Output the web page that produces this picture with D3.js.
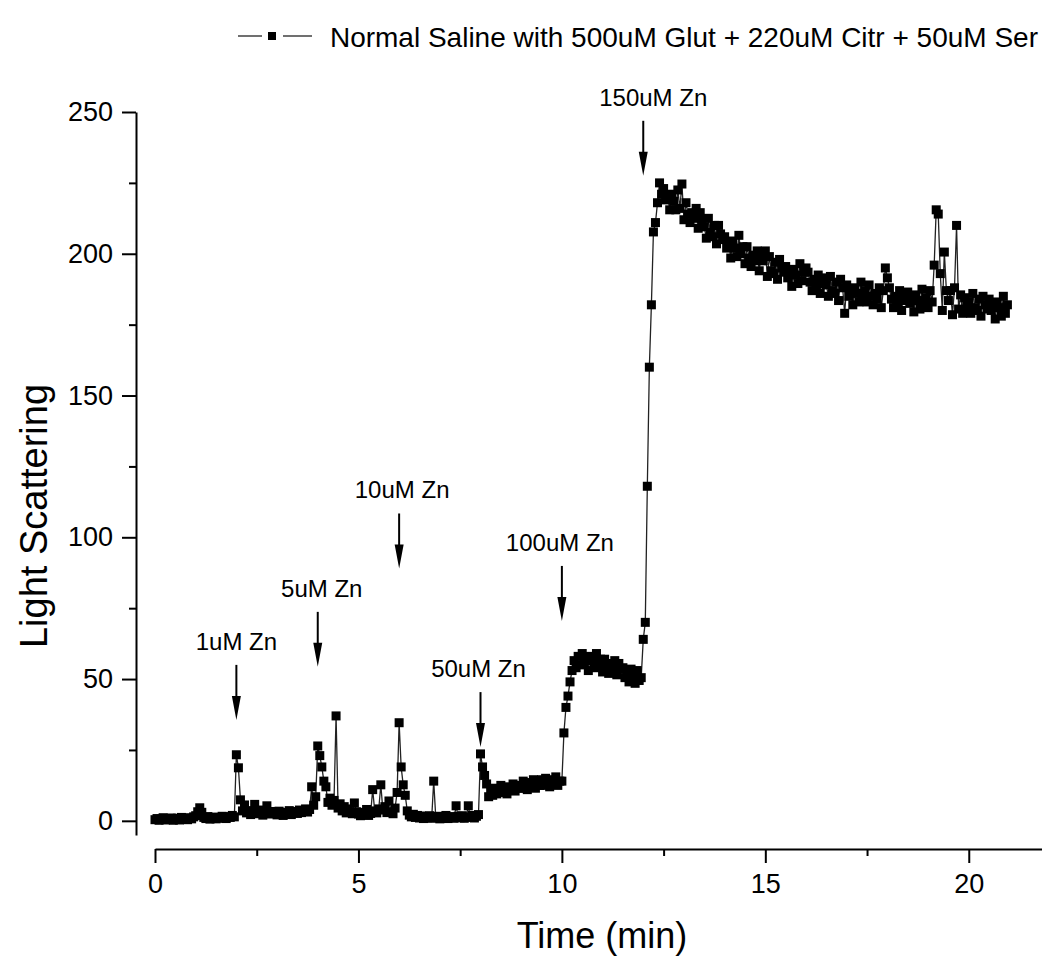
<!DOCTYPE html>
<html>
<head>
<meta charset="utf-8">
<script src="https://cdn.jsdelivr.net/npm/d3@7"></script>
<style>
  html, body { margin: 0; padding: 0; background: #fff; }
  svg text { font-family: "Liberation Sans", Arial, sans-serif; fill: #000; }
</style>
</head>
<body>
<div id="chart"></div>
<script>
// Light scattering trace, one reading every 0.05 min
const sampleStart = 0;
const sampleStep = 0.05;
const lightScattering = [
  // 0 - 2 min, baseline
  0.4, 0.8, 0.2, 0.6, 1.1, 0.3, 0.7, 0.5, 1.0, 0.2,
  0.6, 0.9, 0.3, 1.2, 0.5, 0.8, 0.4, 1.1, 0.7, 1.4,
  1.8, 3.2, 4.6, 3.0, 1.2, 0.8, 1.5, 0.6, 1.0, 1.3,
  0.7, 1.2, 0.9, 1.6, 1.1, 0.8, 1.5, 1.2, 1.9, 1.4,
  // 2 - 4 min, after 1uM Zn
  23.3, 18.7, 7.4, 3.5, 5.6, 2.8, 3.6, 2.2, 3.0, 5.8,
  3.2, 2.5, 3.8, 2.0, 2.9, 5.3, 3.1, 2.4, 3.3, 2.6,
  2.1, 3.4, 2.7, 1.9, 3.0, 2.5, 3.6, 2.2, 2.9, 3.3,
  2.6, 3.8, 2.9, 3.5, 4.2, 3.1, 4.0, 12.0, 5.5, 8.5,
  // 4 - 6 min, after 5uM Zn
  26.4, 23.0, 19.0, 14.0, 12.0, 6.5, 8.0, 5.5, 7.2, 37.0,
  4.5, 6.0, 3.5, 5.0, 2.8, 4.2, 3.0, 2.5, 6.3, 3.2,
  2.4, 1.8, 3.0, 2.2, 4.0, 1.9, 2.6, 11.0, 3.5, 2.8,
  4.2, 12.7, 3.8, 5.0, 2.9, 7.0, 3.2, 2.5, 4.5, 10.0,
  // 6 - 8 min, after 10uM Zn
  34.6, 19.0, 12.7, 9.0, 3.5, 2.0, 1.4, 2.3, 1.2, 1.9,
  1.0, 1.7, 0.8, 1.5, 1.1, 1.8, 0.9, 14.0, 1.3, 1.6,
  0.7, 1.4, 1.0, 1.9, 0.8, 1.5, 1.2, 0.9, 5.3, 1.6,
  1.1, 1.8, 0.9, 1.4, 5.3, 1.2, 1.9, 1.0, 1.6, 2.2,
  // 8 - 10 min, after 50uM Zn
  23.6, 19.0, 16.0, 13.0, 8.5, 10.5, 9.0, 11.5, 9.5, 11.0,
  12.5, 10.0, 11.5, 9.5, 12.0, 11.0, 13.0, 10.5, 12.5, 11.5,
  11.5, 14.0, 12.5, 11.0, 13.5, 12.0, 14.5, 11.5, 13.5, 12.5,
  14.5, 12.5, 15.0, 13.5, 12.0, 14.5, 13.0, 15.5, 12.5, 14.0,
  // 10 - 12 min, after 100uM Zn
  14.0, 31.0, 40.0, 44.0, 49.0, 53.0, 56.5, 54.0, 58.0, 55.0,
  59.0, 55.5, 57.5, 53.0, 58.0, 56.5, 54.0, 59.0, 55.0, 57.0,
  52.5, 57.0, 54.5, 52.0, 55.5, 53.5, 56.5, 51.5, 55.5, 53.5,
  54.0, 50.5, 53.0, 49.0, 53.5, 51.5, 48.5, 53.0, 49.5, 50.5,
  // 12 - 21 min, after 150uM Zn
  64.0, 70.0, 118.0, 160.0, 182.0, 207.7, 211.0, 218.0, 225.0, 221.0,
  223.0, 219.0, 220.5, 215.5, 221.0, 218.5, 215.5, 222.5, 216.0, 224.6,
  212.0, 218.0, 214.0, 211.0, 214.5, 212.5, 216.0, 209.0, 214.5, 211.5,
  209.5, 205.5, 212.5, 207.5, 206.0, 210.0, 203.5, 210.0, 207.0, 205.0,
  206.0, 202.0, 204.0, 198.5, 204.5, 202.0, 199.0, 206.5, 200.0, 202.5,
  196.5, 202.5, 198.5, 195.5, 199.5, 197.5, 201.0, 194.0, 200.0, 197.5,
  201.0, 192.0, 199.0, 194.0, 193.0, 197.0, 191.0, 198.0, 195.0, 193.5,
  195.5, 191.5, 193.5, 188.5, 194.5, 192.5, 189.5, 196.5, 190.5, 193.5,
  195.0, 193.5, 190.0, 187.0, 191.0, 189.0, 192.5, 186.0, 191.5, 189.5,
  189.0, 185.0, 192.0, 187.0, 186.0, 190.0, 183.5, 191.0, 188.0, 179.0,
  189.0, 185.0, 187.0, 182.0, 188.0, 186.0, 183.0, 190.0, 184.0, 187.0,
  183.0, 189.0, 185.0, 182.0, 186.0, 184.0, 188.0, 181.0, 187.0, 195.0,
  191.5, 188.0, 184.0, 181.0, 185.0, 183.0, 187.0, 180.0, 186.0, 183.5,
  186.5, 182.5, 184.5, 179.5, 185.5, 183.5, 180.5, 187.5, 181.5, 184.5,
  181.0, 187.0, 183.0, 196.0, 215.5, 214.0, 193.0, 180.0, 200.6, 187.0,
  183.5, 187.0, 178.5, 188.0, 210.0, 180.5, 185.5, 179.0, 184.5, 182.0,
  183.0, 179.0, 186.0, 181.0, 180.0, 184.0, 178.0, 185.0, 182.0, 180.5,
  184.0, 180.0, 182.0, 177.0, 183.0, 181.0, 178.0, 185.0, 179.0, 182.0
];

const xTicks = [0, 5, 10, 15, 20];
const xMinorTicks = [2.5, 7.5, 12.5, 17.5];
const yTicks = [0, 50, 100, 150, 200, 250];
const yMinorTicks = [25, 75, 125, 175, 225];

// zinc additions: label, time of addition, signal value at the arrow tip
const addLabels = ["1uM Zn", "5uM Zn", "10uM Zn", "50uM Zn", "100uM Zn", "150uM Zn"];
const addTimes = [2, 4, 6, 8, 10, 12];
const addTipValues = [35.6, 54.3, 89.0, 26.0, 70.5, 227.5];

const seriesName = "Normal Saline with 500uM Glut + 220uM Citr + 50uM Ser";

const W = 1042, H = 958;
const svg = d3.select("#chart").append("svg")
    .attr("width", W)
    .attr("height", H);

const x = d3.scaleLinear().domain([0, 21.8]).range([155, 1042]);
const y = d3.scaleLinear().domain([-5, 250]).range([835, 112]);
const axisY0 = 849, axisX0 = 136;

const data = lightScattering.map((v, i) => ({ t: sampleStart + i * sampleStep, v: v }));

// Axes
svg.append("g")
    .attr("transform", `translate(0,${axisY0})`)
    .call(d3.axisBottom(x).tickValues(xTicks).tickSize(14).tickSizeOuter(0).tickPadding(11)
        .tickFormat(d3.format("d")));
svg.append("g")
    .attr("transform", `translate(0,${axisY0})`)
    .call(d3.axisBottom(x).tickValues(xMinorTicks).tickSize(7).tickFormat(""))
    .select(".domain").remove();

svg.append("g")
    .attr("transform", `translate(${axisX0},0)`)
    .call(d3.axisLeft(y).tickValues(yTicks).tickSize(14).tickSizeOuter(0).tickPadding(9));
svg.append("g")
    .attr("transform", `translate(${axisX0},0)`)
    .call(d3.axisLeft(y).tickValues(yMinorTicks).tickSize(7).tickFormat(""))
    .select(".domain").remove();

svg.selectAll(".domain, .tick line")
    .attr("stroke", "#000")
    .attr("stroke-width", 2);
svg.selectAll(".tick text")
    .style("font-size", "27px")
    .style("font-family", "'Liberation Sans', Arial, sans-serif");

// Axis titles
svg.append("text")
    .attr("x", 602)
    .attr("y", 948)
    .attr("text-anchor", "middle")
    .style("font-size", "36px")
    .text("Time (min)");

svg.append("text")
    .attr("transform", "translate(47,516) rotate(-90)")
    .attr("text-anchor", "middle")
    .style("font-size", "38px")
    .text("Light Scattering");

// Trace
const line = d3.line().x(d => x(d.t)).y(d => y(d.v));
svg.append("path")
    .datum(data)
    .attr("fill", "none")
    .attr("stroke", "#222")
    .attr("stroke-width", 1.3)
    .attr("d", line);

const ms = 9;
svg.append("g")
    .selectAll("rect")
    .data(data)
    .enter()
    .append("rect")
    .attr("x", d => x(d.t) - ms / 2)
    .attr("y", d => y(d.v) - ms / 2)
    .attr("width", ms)
    .attr("height", ms)
    .attr("fill", "#000");

// Arrows for zinc additions
const arrowLen = 55, headLen = 24, headHalf = 4.5;
const labelDx = [0, 4, 3, -2, -2, 10];
const ann = svg.append("g");
addLabels.forEach((lab, i) => {
    const ax = x(addTimes[i]);
    const tip = y(addTipValues[i]);
    ann.append("line")
        .attr("x1", ax).attr("x2", ax)
        .attr("y1", tip - arrowLen).attr("y2", tip - headLen + 2)
        .attr("stroke", "#000")
        .attr("stroke-width", 2);
    ann.append("path")
        .attr("d", `M${ax},${tip} L${ax - headHalf},${tip - headLen} L${ax + headHalf},${tip - headLen} Z`)
        .attr("fill", "#000");
    ann.append("text")
        .attr("x", ax + labelDx[i])
        .attr("y", tip - arrowLen - 15)
        .attr("text-anchor", "middle")
        .style("font-size", "24px")
        .text(lab);
});

// Legend
const leg = svg.append("g");
leg.append("line")
    .attr("x1", 238).attr("x2", 262).attr("y1", 36).attr("y2", 36)
    .attr("stroke", "#222").attr("stroke-width", 1.3);
leg.append("line")
    .attr("x1", 283).attr("x2", 312).attr("y1", 36).attr("y2", 36)
    .attr("stroke", "#222").attr("stroke-width", 1.3);
leg.append("rect")
    .attr("x", 272 - 4).attr("y", 36 - 4)
    .attr("width", 8).attr("height", 8)
    .attr("fill", "#000");
leg.append("text")
    .attr("x", 1038)
    .attr("y", 47)
    .attr("text-anchor", "end")
    .style("font-size", "28px")
    .text(seriesName);
</script>
</body>
</html>
